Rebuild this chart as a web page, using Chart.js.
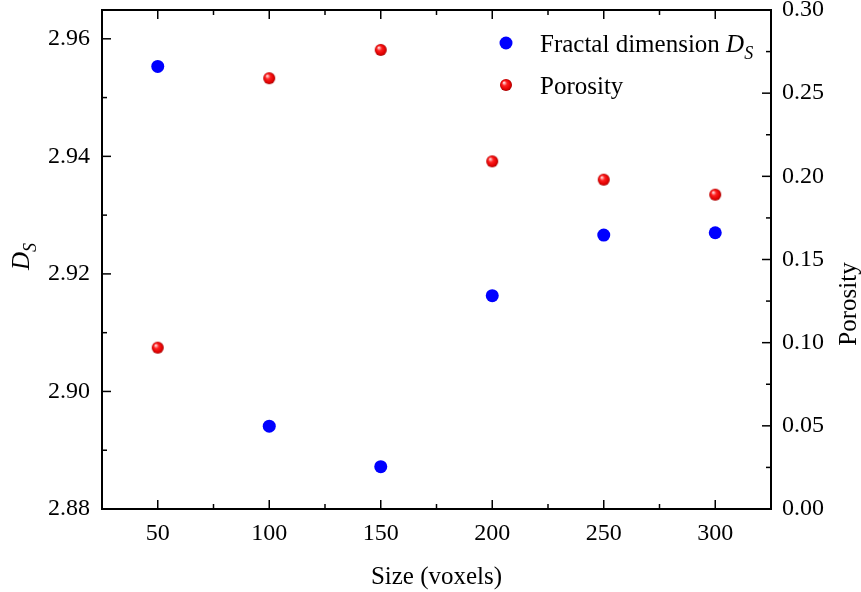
<!DOCTYPE html>
<html>
<head>
<meta charset="utf-8">
<script src="https://cdn.jsdelivr.net/npm/chart.js@4.4.1/dist/chart.umd.min.js"></script>
<style>
  html, body { margin: 0; padding: 0; background: #fff; }
  #wrap { width: 861px; height: 592px; }
</style>
</head>
<body>
<div id="wrap"><canvas id="c" width="861" height="592"></canvas></div>
<script>
// data
const sizes = [50, 100, 150, 200, 250, 300];
const fractalDs = [2.9553, 2.8941, 2.8872, 2.9163, 2.9266, 2.9270];
const porosity = [0.097, 0.259, 0.276, 0.209, 0.198, 0.189];

const xTicks = [50, 100, 150, 200, 250, 300];
const dsTicks = [2.88, 2.90, 2.92, 2.94, 2.96];
const porTicks = [0.00, 0.05, 0.10, 0.15, 0.20, 0.25, 0.30];

const FONT = "'Liberation Serif', 'Times New Roman', serif";

// shaded red ball used for porosity points
function makeBall(r) {
  const cv = document.createElement("canvas");
  cv.width = cv.height = r * 2 + 2;
  const g = cv.getContext("2d");
  const c = r + 1;
  const grad = g.createRadialGradient(c - r * 0.35, c - r * 0.4, r * 0.1, c, c, r);
  grad.addColorStop(0, "#ffd0d0");
  grad.addColorStop(0.35, "#ff2020");
  grad.addColorStop(0.8, "#e00000");
  grad.addColorStop(1, "#a00000");
  g.fillStyle = grad;
  g.beginPath();
  g.arc(c, c, r, 0, Math.PI * 2);
  g.fill();
  return cv;
}
const redBall = makeBall(6);

// frame, inward ticks, titles and legend
const framePlugin = {
  id: "frame",
  afterDraw(chart) {
    const { ctx, chartArea: a, scales } = chart;
    const sx = scales.x, sy = scales.y, sy1 = scales.y1;
    ctx.save();
    ctx.strokeStyle = "#000";
    ctx.lineWidth = 2;
    ctx.strokeRect(a.left, a.top, a.right - a.left, a.bottom - a.top);

    ctx.lineWidth = 1.5;
    const tick = (x1, y1, x2, y2) => {
      ctx.beginPath(); ctx.moveTo(x1, y1); ctx.lineTo(x2, y2); ctx.stroke();
    };
    const MAJ = 9, MIN = 5;
    // x ticks, bottom and top
    xTicks.forEach(v => {
      const p = sx.getPixelForValue(v);
      tick(p, a.bottom, p, a.bottom - MAJ);
      tick(p, a.top, p, a.top + MAJ);
      const m = sx.getPixelForValue(v + 25);
      if (v + 25 < sx.max) {
        tick(m, a.bottom, m, a.bottom - MIN);
        tick(m, a.top, m, a.top + MIN);
      }
    });
    // left axis
    dsTicks.forEach(v => {
      const p = sy.getPixelForValue(v);
      tick(a.left, p, a.left + MAJ, p);
      const m = sy.getPixelForValue(v + 0.01);
      if (v + 0.01 < sy.max) tick(a.left, m, a.left + MIN, m);
    });
    // right axis
    porTicks.forEach(v => {
      const p = sy1.getPixelForValue(v);
      tick(a.right, p, a.right - MAJ, p);
      const m = sy1.getPixelForValue(v + 0.025);
      if (v + 0.025 < sy1.max) tick(a.right, m, a.right - MIN, m);
    });

    ctx.fillStyle = "#000";
    ctx.textBaseline = "alphabetic";
    // x title
    ctx.font = "25px " + FONT;
    ctx.textAlign = "center";
    ctx.fillText("Size (voxels)", (a.left + a.right) / 2, 584);

    // left title D_S
    ctx.save();
    ctx.translate(29, 270);
    ctx.rotate(-Math.PI / 2);
    ctx.textAlign = "left";
    ctx.font = "italic 25px " + FONT;
    ctx.fillText("D", 0, 0);
    const dw = ctx.measureText("D").width;
    ctx.font = "italic 18px " + FONT;
    ctx.fillText("S", dw, 7);
    ctx.restore();

    // right title
    ctx.save();
    ctx.translate(856, 304);
    ctx.rotate(-Math.PI / 2);
    ctx.textAlign = "center";
    ctx.font = "25px " + FONT;
    ctx.fillText("Porosity", 0, 0);
    ctx.restore();

    // legend
    ctx.textAlign = "left";
    ctx.fillStyle = "#0000ff";
    ctx.beginPath(); ctx.arc(506, 43, 6.5, 0, Math.PI * 2); ctx.fill();
    ctx.drawImage(redBall, 506 - 7, 85 - 7);
    ctx.fillStyle = "#000";
    ctx.font = "25px " + FONT;
    const t1 = "Fractal dimension ";
    ctx.fillText(t1, 540, 52);
    let x = 540 + ctx.measureText(t1).width;
    ctx.font = "italic 25px " + FONT;
    ctx.fillText("D", x, 52);
    x += ctx.measureText("D").width;
    ctx.font = "italic 18px " + FONT;
    ctx.fillText("S", x, 59);
    ctx.font = "25px " + FONT;
    ctx.fillText("Porosity", 540, 94);
    ctx.restore();
  }
};

const tickFont = { family: FONT, size: 24 };
const noPad = s => { s.paddingTop = 0; s.paddingBottom = 0; };

new Chart(document.getElementById("c"), {
  type: "scatter",
  data: {
    datasets: [
      {
        label: "Fractal dimension Ds",
        data: sizes.map((s, i) => ({ x: s, y: fractalDs[i] })),
        yAxisID: "y",
        pointStyle: "circle",
        pointRadius: 6.5,
        pointHoverRadius: 6.5,
        pointBackgroundColor: "#0000ff",
        pointBorderWidth: 0
      },
      {
        label: "Porosity",
        data: sizes.map((s, i) => ({ x: s, y: porosity[i] })),
        yAxisID: "y1",
        pointStyle: redBall,
        pointRadius: 6,
        pointHoverRadius: 6
      }
    ]
  },
  options: {
    responsive: false,
    animation: false,
    layout: { padding: { top: 10, left: 0, right: 0, bottom: 0 } },
    plugins: { legend: { display: false }, tooltip: { enabled: false } },
    scales: {
      x: {
        type: "linear",
        min: 25, max: 325,
        grid: { display: false, drawTicks: false },
        border: { display: false },
        afterBuildTicks: s => { s.ticks = xTicks.map(v => ({ value: v })); },
        afterFit: s => { s.height = 83; s.paddingLeft = 0; s.paddingRight = 0; },
        ticks: { color: "#000", font: tickFont, padding: 10, maxRotation: 0 }
      },
      y: {
        position: "left",
        min: 2.88, max: 2.9649,
        grid: { display: false, drawTicks: false },
        border: { display: false },
        afterBuildTicks: s => { s.ticks = dsTicks.map(v => ({ value: v })); },
        afterFit: s => { s.width = 102; noPad(s); },
        ticks: { color: "#000", font: tickFont, padding: 12, callback: v => v.toFixed(2) }
      },
      y1: {
        position: "right",
        min: 0, max: 0.30,
        grid: { display: false, drawTicks: false },
        border: { display: false },
        afterBuildTicks: s => { s.ticks = porTicks.map(v => ({ value: v })); },
        afterFit: s => { s.width = 90; noPad(s); },
        ticks: { color: "#000", font: tickFont, padding: 11, callback: v => v.toFixed(2) }
      }
    }
  },
  plugins: [framePlugin]
});
</script>
</body>
</html>
